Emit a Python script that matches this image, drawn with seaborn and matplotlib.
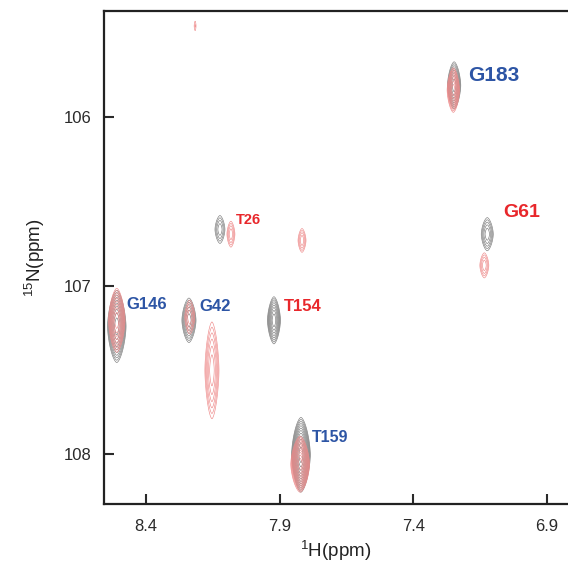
import numpy as np
import pandas as pd
import seaborn as sns
import matplotlib
matplotlib.use("Agg")
import matplotlib.pyplot as plt

sns.set_style("ticks")
plt.rcParams['font.family'] = ['Liberation Sans', 'DejaVu Sans']
plt.rcParams['mathtext.default'] = 'regular'

# ---- data: reference (black) peaks ----
ref_names = ["G183", "G61", "T26", "G42", "T154", "G146", "T159"]
ref_h = [7.247, 7.123, 8.123, 8.239, 7.921, 8.509, 7.820]
ref_n = [105.810, 106.693, 106.665, 107.204, 107.204, 107.240, 108.002]
ref_amp = [5.96, 3.05, 2.44, 4.77, 5.96, 9.3, 14.5]
ref_wh = [0.0173, 0.021, 0.020, 0.020, 0.017, 0.021, 0.019]
ref_wn = [0.0975, 0.092, 0.089, 0.100, 0.0975, 0.130, 0.120]

# ---- data: second spectrum (red) peaks ----
red_h = [7.250, 7.134, 8.082, 7.816, 8.236, 8.153, 8.509, 7.823, 8.216]
red_n = [105.838, 106.878, 106.693, 106.730, 107.185, 107.501, 107.204, 108.058, 105.457]
red_amp = [7.45, 2.44, 2.44, 2.44, 2.44, 3.8, 7.45, 14.5, 1.3]
red_wh = [0.015, 0.018, 0.016, 0.016, 0.020, 0.022, 0.020, 0.019, 0.008]
red_wn = [0.0855, 0.080, 0.0827, 0.076, 0.108, 0.240, 0.123, 0.090, 0.065]

# ---- labels ----
lab_text = ["G183", "G61", "T26", "G42", "T154", "G146", "T159"]
lab_x = [7.097, 6.993, 8.018, 8.142, 7.812, 8.396, 7.711]
lab_y = [105.754, 106.567, 106.609, 107.120, 107.120, 107.110, 107.900]
lab_col = ["blue", "red", "red", "blue", "red", "blue", "blue"]
lab_size = [15, 14, 10.5, 12, 12, 12, 11.5]

x_ticks = [8.4, 7.9, 7.4, 6.9]
y_ticks = [106, 107, 108]

ref_df = pd.DataFrame(dict(h=ref_h, n=ref_n, amp=ref_amp, wh=ref_wh, wn=ref_wn))
red_df = pd.DataFrame(dict(h=red_h, n=red_n, amp=red_amp, wh=red_wh, wn=red_wn))

xlim = (8.557, 6.821)
ylim = (108.294, 105.367)

gx = np.linspace(xlim[1], xlim[0], 1400)
gy = np.linspace(ylim[1], ylim[0], 1400)
X, Y = np.meshgrid(gx, gy)
P = 1.6


def spectrum(df):
    Z = np.zeros_like(X)
    for r in df.itertuples():
        Z += r.amp * np.exp(-(np.abs(X - r.h) / r.wh) ** P - (np.abs(Y - r.n) / r.wn) ** P)
    return Z


levels = [1.0 * 1.25 ** k for k in range(16)]

fig = plt.figure(figsize=(5.68, 5.65), dpi=100)
ax = fig.add_axes([0.183, 0.108, 0.817, 0.873])

ax.contour(X, Y, spectrum(ref_df), levels=levels, colors="#7a7a7a", linewidths=0.45)
ax.contour(X, Y, spectrum(red_df), levels=levels, colors="#ee8a8a", linewidths=0.45)

colmap = {"blue": "#2d55a5", "red": "#e8272b"}
for t, x, y, c, s in zip(lab_text, lab_x, lab_y, lab_col, lab_size):
    ax.text(x, y, t, color=colmap[c], fontsize=s, fontweight="bold",
            ha="center", va="center")

ax.set_xlim(*xlim)
ax.set_ylim(*ylim)
ax.set_xticks(x_ticks)
ax.set_xticklabels([f"{v:.1f}" for v in x_ticks])
ax.set_yticks(y_ticks)
ax.set_yticklabels([str(v) for v in y_ticks])
ax.tick_params(direction="in", length=7, width=1.5, labelsize=12, colors="#2a2a2a",
               pad=11)
ax.tick_params(axis="y", pad=9)
for s in ["left", "bottom", "top"]:
    ax.spines[s].set_linewidth(1.6)
    ax.spines[s].set_color("#222222")
ax.spines["right"].set_visible(False)

ax.set_xlabel(r"$^{1}$H(ppm)", fontsize=13.5, color="#222222", labelpad=3)
ax.set_ylabel(r"$^{15}$N(ppm)", fontsize=13.5, color="#222222", labelpad=12)

fig.savefig("out.png", dpi=100)
